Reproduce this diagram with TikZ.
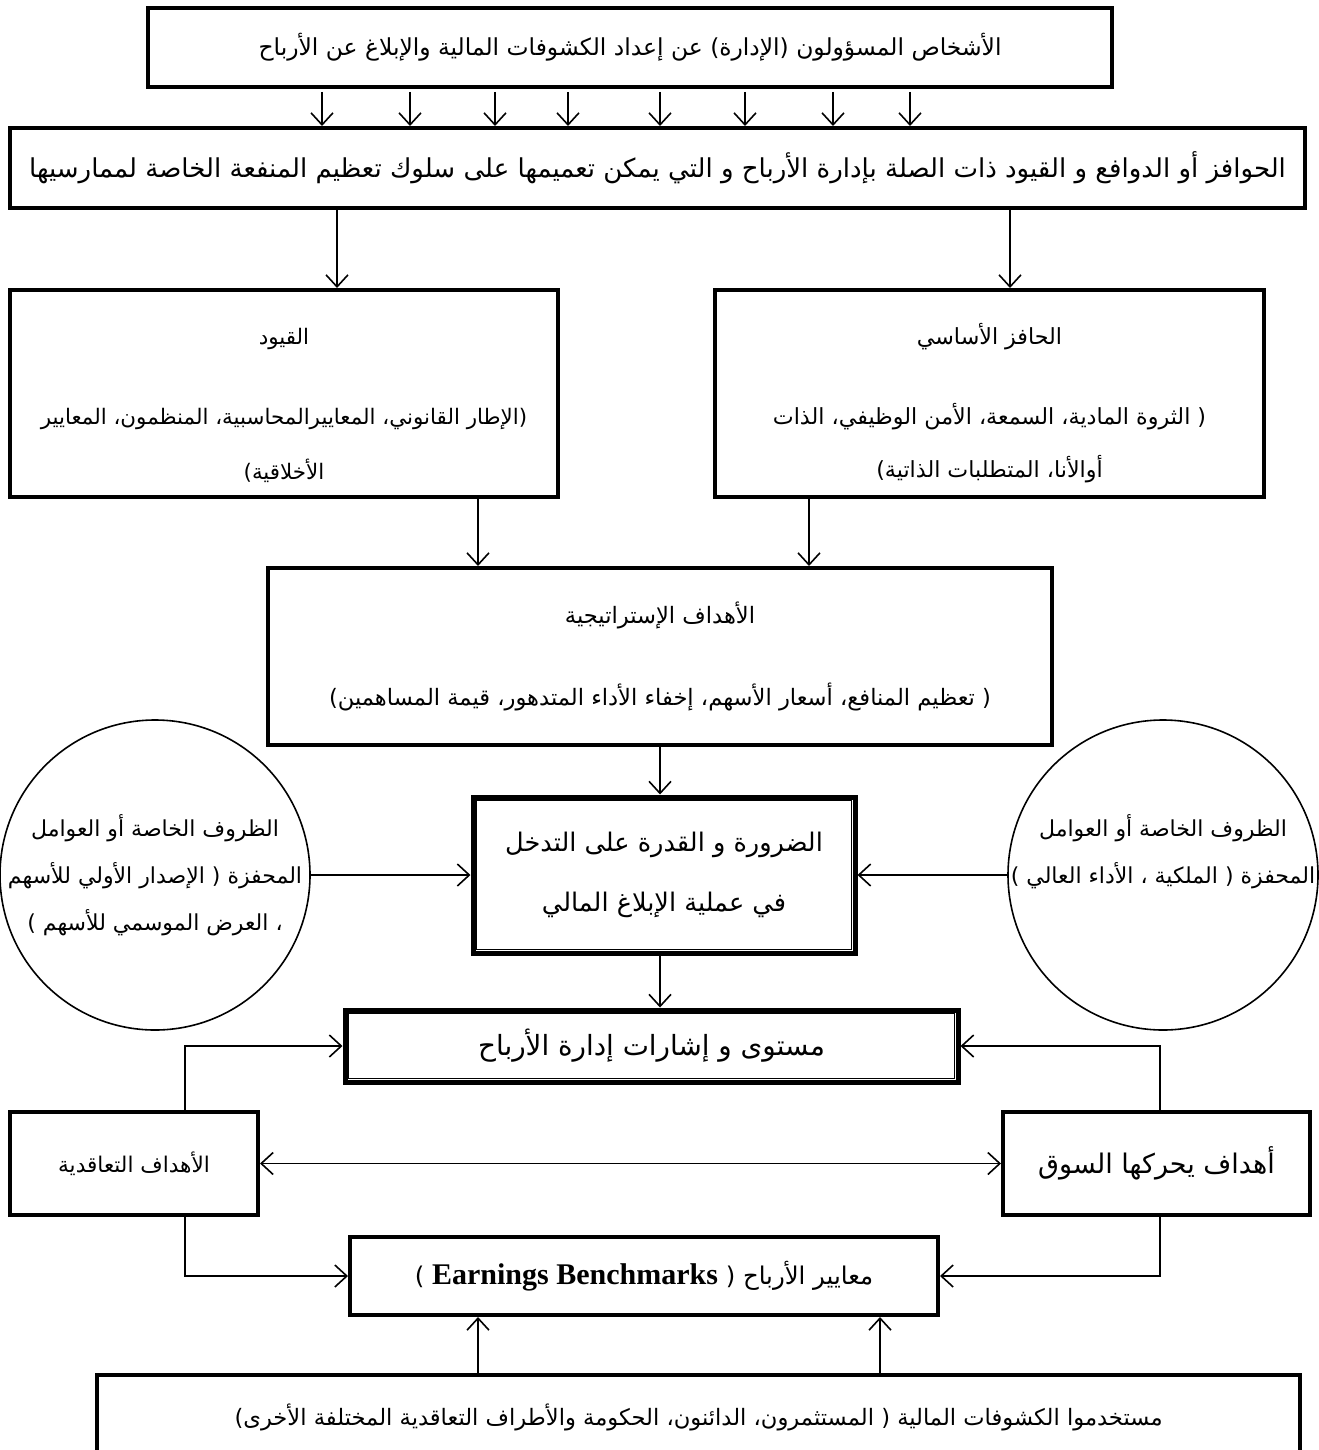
\documentclass[tikz,border=0pt]{standalone}
\usepackage{fontspec}
\usetikzlibrary{arrows.meta}
\TeXXeTstate=1
\setmainfont{Liberation Serif}
\newfontfamily\arabicfont[Script=Arabic]{DejaVu Sans}
\newcommand{\rl}[1]{\beginR #1\endR}
\newcommand{\arsize}[1]{\arabicfont\fontsize{#1}{14}\selectfont}

\begin{document}
\begin{tikzpicture}[x=0.5pt, y=-0.5pt, font=\arsize{11.5},
        box/.style = {draw, line width=2pt, align=center, inner sep=0pt},
        ring/.style = {draw, circle, line width=0.8pt, minimum size=155pt, inner sep=0pt},
        arr/.style = {line width=0.8pt, -{Straight Barb[length=6pt,width=11pt]}},
        duo/.style = {line width=0.8pt, {Straight Barb[length=6pt,width=11pt]}-{Straight Barb[length=6pt,width=11pt]}}]

        \useasboundingbox (0,0) rectangle (1318,1450);

        \node[box, minimum width=482pt, minimum height=39.5pt, font=\arsize{11.7}] (top) at (630,47.5) {\rl{الأشخاص المسؤولون (الإدارة) عن إعداد الكشوفات المالية والإبلاغ عن الأرباح}};
        \node[box, minimum width=647.5pt, minimum height=40pt, font=\arsize{13}] (motiv) at (657.5,168) {\rl{الحوافز أو الدوافع و القيود ذات الصلة بإدارة الأرباح و التي يمكن تعميمها على سلوك تعظيم المنفعة الخاصة لممارسيها}};
        \node[box, minimum width=274pt, minimum height=103.5pt, font=\arsize{10.7}] (constr) at (284,393.5) {\rule{0pt}{20pt}\rl{القيود}\\[26pt] \rl{(الإطار القانوني، المعاييرالمحاسبية، المنظمون، المعايير}\\[13.5pt] \rl{الأخلاقية)}};
        \node[box, minimum width=274.5pt, minimum height=103.5pt, font=\arsize{11.1}] (incent) at (989.5,393.5) {\rule{0pt}{20pt}\rl{الحافز الأساسي}\\[26pt] \rl{( الثروة المادية، السمعة، الأمن الوظيفي، الذات}\\[12.5pt] \rl{أوالأنا، المتطلبات الذاتية)}};
        \node[box, minimum width=392pt, minimum height=88.5pt, font=\arsize{11.3}] (strat) at (660,656.5) {\rl{الأهداف الإستراتيجية}\\[26pt] \rl{( تعظيم المنافع، أسعار الأسهم، إخفاء الأداء المتدهور، قيمة المساهمين)}};
        \node[box, line width=2.5pt, minimum width=191pt, minimum height=78pt, font=\arabicfont\fontsize{12.8}{16}\selectfont] (need) at (664,875) {\rl{الضرورة و القدرة على التدخل}\\[14pt] \rl{في عملية الإبلاغ المالي}};
        \node[ring] (lcirc) at (155,875) {};
        \node[align=center, font=\arsize{11}] (ltext) at (lcirc.center) {\rl{الظروف الخاصة أو العوامل}\\[9.5pt] \rl{المحفزة ( الإصدار الأولي للأسهم}\\[9.5pt] \rl{، العرض الموسمي للأسهم )}};
        \node[ring] (rcirc) at (1163,875) {};
        \node[align=center, font=\arsize{11}] (rtext) at ([yshift=11.75pt]rcirc.center) {\rl{الظروف الخاصة أو العوامل}\\[9.5pt] \rl{المحفزة ( الملكية ، الأداء العالي )}};
        \node[box, line width=2.5pt, minimum width=306.5pt, minimum height=36pt, font=\arsize{13.9}] (level) at (651.5,1046) {\rl{مستوى و إشارات إدارة الأرباح}};
        \node[box, minimum width=124pt, minimum height=51.5pt, font=\arsize{10.8}] (contr) at (134,1163.5) {\rl{الأهداف التعاقدية}};
        \node[box, minimum width=153.5pt, minimum height=51.5pt, font=\arsize{13.5}] (market) at (1156.5,1163.5) {\rl{أهداف يحركها السوق}};
        \node[box, minimum width=294pt, minimum height=39pt, font=\arsize{12.2}] (bench) at (644,1276) {\rl{معايير الأرباح ( \beginL{\rmfamily\bfseries\fontsize{15}{17}\selectfont Earnings Benchmarks}\endL{} )}};
        \node[box, minimum width=601.5pt, minimum height=42.5pt, font=\arsize{11.3}] (users) at (698.5,1417.5) {\rl{مستخدموا الكشوفات المالية ( المستثمرون، الدائنون، الحكومة والأطراف التعاقدية المختلفة الأخرى)}};

        \draw[line width=0.5pt] ([shift={(2.8pt,-2.8pt)}]need.north west) rectangle ([shift={(-2.8pt,2.8pt)}]need.south east);
        \draw[line width=0.5pt] ([shift={(2.8pt,-2.8pt)}]level.north west) rectangle ([shift={(-2.8pt,2.8pt)}]level.south east);

        \foreach \x in {322,410,495,568,660,745,833,910}
            \draw[arr] ([yshift=-1.5pt]top.south -| \x,0) -- (motiv.north -| \x,0);
        \draw[arr] (motiv.south -| 337,0) -- (constr.north -| 337,0);
        \draw[arr] (motiv.south -| 1010,0) -- (incent.north -| 1010,0);
        \draw[arr] (constr.south -| 478,0) -- (strat.north -| 478,0);
        \draw[arr] (incent.south -| 809,0) -- (strat.north -| 809,0);
        \draw[arr] (strat.south -| 660,0) -- (need.north -| 660,0);
        \draw[arr] (lcirc) -- (need);
        \draw[arr] (rcirc) -- (need);
        \draw[arr] (need.south -| 660,0) -- (level.north -| 660,0);
        \draw[arr] (contr.north -| 185,0) |- (level.west);
        \draw[arr] (market.north -| 1160,0) |- (level.east);
        \draw[duo] (contr) -- (market);
        \draw[arr] (contr.south -| 185,0) |- (bench.west);
        \draw[arr] (market.south -| 1160,0) |- (bench.east);
        \draw[arr] (users.north -| 478,0) -- (bench.south -| 478,0);
        \draw[arr] (users.north -| 880,0) -- (bench.south -| 880,0);

\end{tikzpicture}
\end{document}
